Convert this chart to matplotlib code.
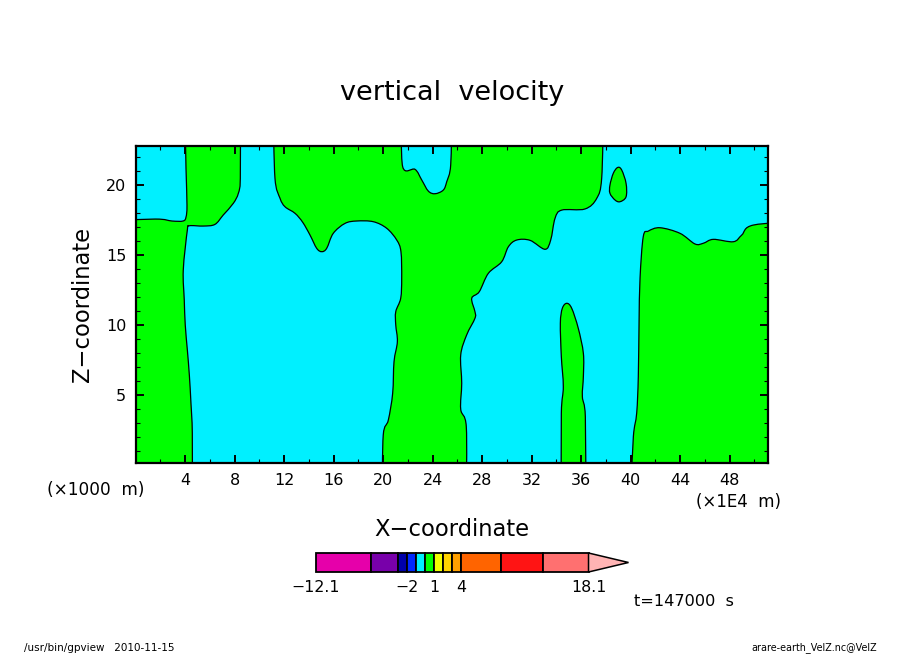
import matplotlib
matplotlib.use("Agg")
import matplotlib.pyplot as plt
import numpy as np
from matplotlib.path import Path
from matplotlib.patches import PathPatch

W = 904
H = 654
XMIN = 0.04
XMAX = 51.11
ZMIN = 0.14
ZMAX = 22.79

# corners of the filled regions sit outside the frame and get clipped
XOUT_L = -3
XOUT_R = 54
ZOUT_B = -2
ZOUT_T = 25

GREEN = "#00ff00"
CYAN = "#00f0ff"

# contour traces, (x, z) in axis units
upper_left_x = [XOUT_L, 1.58, 2.95, 3.84, 4.08, 4.16, 4.08, 4.00, XOUT_L]
upper_left_z = [17.43, 17.57, 17.43, 17.43, 17.71, 18.57, 21.21, ZOUT_T, ZOUT_T]

big_left_x = [4.59, 4.59, 4.48, 4.35, 4.19, 4.02, 3.94, 3.86, 4.19, 4.35, 5.48, 6.42, 7.09, 7.90,
              8.31, 8.47, 8.47, 11.14, 11.27, 11.68, 12.08, 12.89, 13.51, 14.10, 14.64, 15.05,
              15.45, 15.98, 16.93, 17.87, 19.22, 20.30, 21.11, 21.45, 21.51, 21.43, 21.03, 21.03,
              21.16, 20.89, 20.78, 20.43, 20.02, 19.94]
big_left_z = [ZOUT_B, 2.29, 4.43, 6.43, 8.21, 10.00, 11.79, 13.93, 16.79, 17.09, 17.07, 17.19, 17.86,
              18.69, 19.41, 20.48, ZOUT_T, ZOUT_T, 20.48, 19.05, 18.45, 17.98, 17.34, 16.43, 15.48,
              15.24, 15.48, 16.55, 17.26, 17.43, 17.38, 16.91, 16.07, 15.24, 13.34, 11.91, 10.95,
              10.00, 8.81, 7.38, 5.12, 3.21, 2.14, ZOUT_B]

notch_x = [21.51, 21.59, 22.59, 23.13, 23.66, 24.20, 24.87, 25.15, 25.47, 25.55]
notch_z = [ZOUT_T, 21.31, 21.12, 20.36, 19.57, 19.38, 19.64, 20.24, 21.43, ZOUT_T]

big_right_x = [26.73, 26.73, 26.28, 26.36, 26.28, 26.76, 27.43, 27.43, 27.17, 27.78, 28.51, 29.59,
               30.13, 30.80, 31.88, 33.09, 33.55, 33.90, 34.44, 36.32, 37.27, 37.67, 37.80, XOUT_R,
               XOUT_R, 49.92, 48.99, 48.31, 46.69, 45.88, 45.21, 44.00, 42.38, 41.44, 41.03, 40.77,
               40.69, 40.63, 40.50, 40.23, 40.02]
big_right_z = [ZOUT_B, 2.74, 3.98, 5.84, 7.86, 9.29, 10.48, 10.95, 11.91, 12.38, 13.69, 14.52, 15.59,
               16.07, 16.05, 15.41, 16.07, 17.62, 18.21, 18.29, 19.05, 20.48, ZOUT_T, ZOUT_T, 17.43,
               17.14, 16.43, 15.95, 16.12, 15.84, 15.79, 16.55, 16.95, 16.71, 16.31, 13.34, 10.14,
               6.31, 3.71, 2.02, ZOUT_B]

spike_x = [34.41, 34.41, 34.57, 34.41, 34.33, 34.49, 34.85, 35.25, 35.78, 36.19, 36.19, 36.11,
           36.35, 36.38]
spike_z = [ZOUT_B, 3.69, 5.59, 7.74, 10.12, 11.19, 11.55, 11.19, 9.76, 7.98, 6.31, 4.88, 3.45, ZOUT_B]

drop_x = [38.97, 39.29, 39.64, 39.64, 39.15, 38.75, 38.34, 38.34, 38.61]
drop_z = [21.26, 21.07, 20.12, 19.16, 18.81, 18.93, 19.41, 20.00, 20.84]

# colour scale
levels = [-12.1, -6, -3, -2, -1, 0, 1, 2, 3, 4, 8.4, 13, 18.1]
level_colors = ["#e600aa", "#7800aa", "#0000aa", "#0028ff", "#00f0ff", "#00ff00", "#f0ff00",
                "#ffd200", "#ffa000", "#ff6400", "#ff1414", "#ff7070"]
over_color = "#ffb4b4"
bar_tick_values = [-12.1, -2, 1, 4, 18.1]
bar_tick_labels = ["\u221212.1", "\u22122", "1", "4", "18.1"]
tip_length = 4.43

x_major = list(range(4, 49, 4))
x_minor = list(range(2, 51, 2))
z_major = [5, 10, 15, 20]
z_minor = list(range(1, 23))


def px_axes(fig, left, top, right, bottom):
    return fig.add_axes([left / W, 1 - bottom / H, (right - left) / W, (bottom - top) / H])


def px_text(fig, x, y, s, size, **kw):
    kw.setdefault("ha", "center")
    kw.setdefault("va", "center")
    fig.text(x / W, 1 - y / H, s, fontsize=size, **kw)


def region(ax, xs, zs, color):
    # closed bezier through the traced points, so the contours are not polygons
    # off-frame corners get no tangent, otherwise the long closing edges bulge into the plot
    p = np.column_stack([xs, zs])
    n = len(p)
    outside = (p[:, 0] < XMIN) | (p[:, 0] > XMAX) | (p[:, 1] < ZMIN) | (p[:, 1] > ZMAX)
    tang = np.zeros_like(p)
    for i in range(n):
        if not outside[i]:
            tang[i] = (p[(i + 1) % n] - p[i - 1]) / 6
    verts = [p[0]]
    codes = [Path.MOVETO]
    for i in range(n):
        j = (i + 1) % n
        verts += [p[i] + tang[i], p[j] - tang[j], p[j]]
        codes += [Path.CURVE4] * 3
    ax.add_patch(PathPatch(Path(verts, codes), facecolor=color, edgecolor="black", linewidth=0.9))


fig = plt.figure(figsize=(W / 100, H / 100), dpi=100)
ax = px_axes(fig, 136, 146, 768, 463)
ax.set_facecolor(GREEN)

for xs, zs in [(upper_left_x, upper_left_z), (big_left_x, big_left_z), (notch_x, notch_z),
               (big_right_x, big_right_z)]:
    region(ax, xs, zs, CYAN)
for xs, zs in [(spike_x, spike_z), (drop_x, drop_z)]:
    region(ax, xs, zs, GREEN)

ax.set_xlim(XMIN, XMAX)
ax.set_ylim(ZMIN, ZMAX)
ax.set_xticks(x_major)
ax.set_xticks(x_minor, minor=True)
ax.set_yticks(z_major)
ax.set_yticks(z_minor, minor=True)
ax.tick_params(which="major", direction="in", top=True, right=True, length=6, width=1.4,
               labelsize=11.5, pad=7)
ax.tick_params(which="minor", direction="in", top=True, right=True, length=3, width=0.8)
for s in ax.spines.values():
    s.set_linewidth(1.6)

# colour bar, tip drawn past the last level
cax = px_axes(fig, 316, 553, 628.5, 572)
cax.set_xlim(levels[0], levels[-1] + tip_length)
cax.set_ylim(0, 1)
cax.axis("off")
lefts = np.array(levels[:-1])
widths = np.diff(levels)
cax.bar(lefts, np.ones(len(lefts)), width=widths, align="edge", color=level_colors,
        edgecolor="black", linewidth=1.3, clip_on=False)
cax.fill([levels[-1], levels[-1] + tip_length, levels[-1]], [0, 0.5, 1], facecolor=over_color,
         edgecolor="black", linewidth=1.1, clip_on=False)
for v, lab in zip(bar_tick_values, bar_tick_labels):
    cax.annotate(lab, (v, 0), xytext=(0, -11.5), textcoords="offset points", ha="center", va="center",
                 fontsize=11.3)

px_text(fig, 452, 93, "vertical  velocity", 19.5)
px_text(fig, 452, 529, "X\u2212coordinate", 16.3)
px_text(fig, 83, 304, "Z\u2212coordinate", 16.3, rotation=90)
px_text(fig, 96, 490, "(\u00d71000  m)", 12.2)
px_text(fig, 739, 502, "(\u00d71E4  m)", 12)
px_text(fig, 684, 602, "t=147000  s", 11.6)
px_text(fig, 24, 648, "/usr/bin/gpview   2010-11-15", 7.5, ha="left")
px_text(fig, 877, 648, "arare-earth_VelZ.nc@VelZ", 6.9, ha="right")

fig.savefig("out.png", dpi=100)
